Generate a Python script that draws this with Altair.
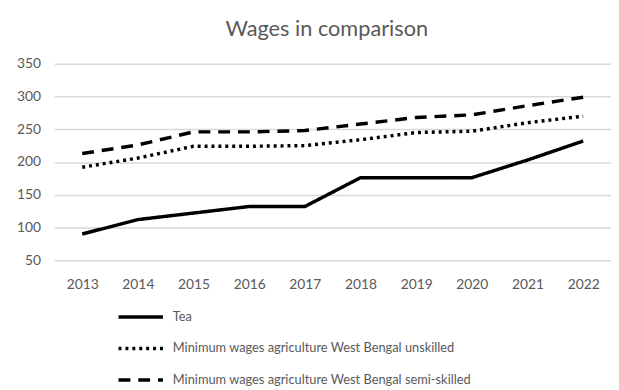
import altair as alt
import pandas as pd

years = ["2013", "2014", "2015", "2016", "2017", "2018", "2019", "2020", "2021", "2022"]
tea = [90, 112, 122, 132, 132, 176, 176, 176, 203, 232]
unskilled = [192, 206, 224, 224, 225, 234, 245, 247, 260, 270]
semiskilled = [213, 226, 246, 246, 248, 258, 268, 272, 286, 299]

series_names = [
    "Tea",
    "Minimum wages agriculture West Bengal unskilled",
    "Minimum wages agriculture West Bengal semi-skilled",
]

rows = []
for name, vals in zip(series_names, [tea, unskilled, semiskilled]):
    for y, v in zip(years, vals):
        rows.append({"Year": y, "Wage": v, "Series": name})
df = pd.DataFrame(rows)

FONT = "Lato"
GREY = "#595959"

chart = alt.Chart(df).mark_line(strokeWidth=3.5, color="black", strokeCap="butt").encode(
    x=alt.X("Year:N", sort=years, title=None,
            scale=alt.Scale(paddingInner=0, paddingOuter=0.5),
            axis=alt.Axis(labelAngle=0, ticks=False, domain=False, grid=False,
                          labelPadding=18, labelFontSize=14, labelColor=GREY, labelFont=FONT)),
    y=alt.Y("Wage:Q", title=None,
            scale=alt.Scale(domain=[50, 350], nice=False, zero=False),
            axis=alt.Axis(values=[50, 100, 150, 200, 250, 300, 350], ticks=False, domain=False,
                          gridColor="#d9d9d9", gridWidth=1.5, labelPadding=14,
                          labelFontSize=14, labelColor=GREY, labelFont=FONT)),
    strokeDash=alt.StrokeDash("Series:N",
        scale=alt.Scale(domain=series_names, range=[[1, 0], [3, 4], [12, 8]]),
        legend=alt.Legend(title=None, orient="none", legendX=63, legendY=232,
                          direction="vertical", symbolType="stroke", symbolSize=2025,
                          symbolStrokeWidth=3.5, symbolStrokeColor="black",
                          rowPadding=-14, labelFontSize=13, labelColor=GREY,
                          labelFont=FONT, labelOffset=8, labelLimit=0)),
).properties(
    width=564,
    height=199,
    title=alt.TitleParams("Wages in comparison", fontSize=22, font=FONT, color=GREY,
                          fontWeight="normal", anchor="middle", offset=16, dx=-6),
    autosize=alt.AutoSizeParams(type="none"),
    padding={"left": 47, "top": 54, "right": 0, "bottom": 128},
).configure_view(stroke=None)

chart.save("out.html", embed_options={"renderer": "svg", "actions": False})
